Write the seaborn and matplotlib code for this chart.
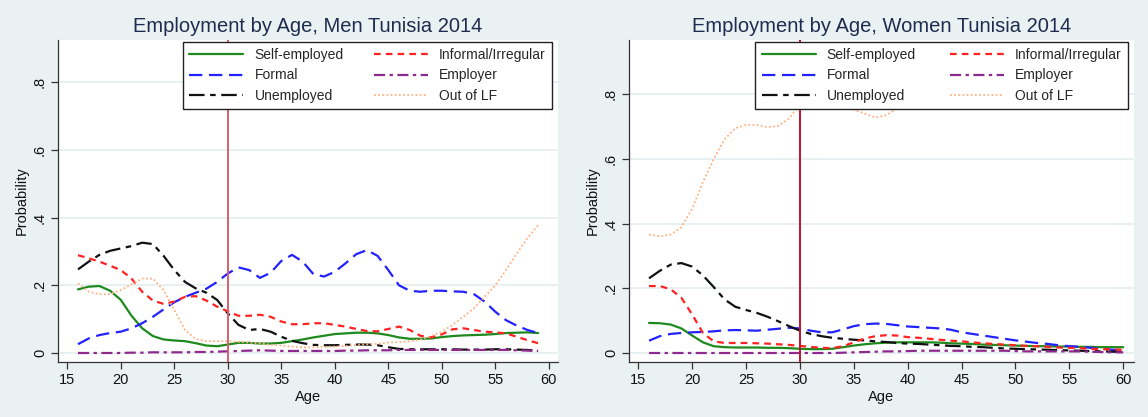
"""
Employment by age, men and women, Tunisia 2014 - recreated with seaborn.
"""

import matplotlib
matplotlib.use("Agg")
import matplotlib.pyplot as plt
import numpy as np
import pandas as pd
import seaborn as sns

# idades
ages_men   = list(range(16, 60))
ages_women = list(range(16, 61))

# homens
men_self = [.188, .196, .198, .184, .157, .110, .073, .050, .040, .037, .035, .029, .022, .020,
            .025, .030, .030, .028, .028, .030, .035, .040, .046, .051, .056, .058, .060, .060,
            .058, .053, .046, .042, .042, .043, .047, .050, .052, .053, .054, .056, .059, .060,
            .061, .059]
men_formal = [.026, .043, .053, .059, .063, .073, .088, .107, .129, .150, .166, .178, .190, .210,
              .235, .253, .245, .222, .237, .272, .290, .270, .233, .226, .240, .265, .292, .304,
              .287, .245, .200, .184, .181, .184, .184, .182, .181, .174, .152, .122, .097, .081,
              .068, .059]
men_unemp = [.247, .270, .290, .302, .309, .316, .326, .322, .287, .245, .210, .191, .178, .157,
             .117, .083, .068, .071, .063, .048, .036, .029, .024, .023, .023, .024, .025, .025,
             .023, .017, .012, .011, .011, .011, .011, .011, .010, .010, .010, .011, .011, .010,
             .009, .007]
men_informal = [.289, .280, .270, .258, .245, .220, .181, .155, .145, .152, .166, .168, .155, .137,
                .123, .110, .110, .113, .107, .093, .085, .085, .088, .088, .083, .078, .071, .065,
                .064, .071, .078, .068, .051, .046, .055, .070, .073, .068, .063, .061, .058, .048,
                .038, .029]
men_employer = [.000, .000, .000, .000, .000, .001, .001, .002, .002, .002, .002, .003, .003, .004,
                .005, .006, .007, .008, .007, .006, .006, .006, .006, .006, .006, .007, .007, .008,
                .008, .008, .009, .009, .009, .009, .009, .009, .009, .009, .009, .009, .009, .008,
                .007, .006]
men_outlf = [.206, .181, .174, .174, .186, .203, .220, .220, .186, .127, .068, .041, .035, .035,
             .035, .033, .031, .029, .024, .022, .019, .017, .017, .018, .019, .021, .024, .026,
             .027, .031, .032, .035, .040, .050, .063, .083, .107, .132, .166, .200, .245, .294,
             .339, .378]

# mulheres
women_self = [.093, .092, .088, .076, .054, .033, .021, .018, .017, .017, .017, .016, .016, .015,
              .013, .012, .012, .013, .018, .023, .027, .030, .032, .033, .033, .033, .033, .032,
              .030, .029, .028, .026, .025, .024, .023, .022, .021, .021, .020, .020, .019, .019,
              .018, .018, .018]
women_formal = [.038, .052, .059, .062, .064, .065, .067, .070, .071, .070, .069, .072, .075, .078,
                .076, .069, .064, .064, .073, .083, .089, .091, .090, .086, .082, .080, .078, .076,
                .072, .064, .059, .054, .049, .044, .039, .035, .031, .028, .024, .021, .019, .016,
                .013, .010, .008]
women_unemp = [.231, .254, .273, .278, .267, .240, .204, .166, .143, .133, .124, .112, .098, .083,
               .069, .059, .052, .047, .044, .041, .039, .036, .034, .031, .029, .028, .026, .024,
               .022, .021, .019, .018, .016, .014, .013, .012, .011, .010, .009, .008, .007, .006,
               .005, .004, .004]
women_informal = [.207, .207, .197, .171, .119, .062, .036, .031, .031, .031, .030, .029, .027, .025,
                  .022, .019, .016, .015, .021, .033, .045, .052, .055, .054, .049, .047, .044, .041,
                  .038, .036, .033, .030, .028, .026, .024, .022, .021, .019, .017, .016, .015, .013,
                  .012, .011, .010]
women_employer = [.000, .000, .000, .000, .000, .000, .000, .000, .000, .000, .000, .000, .000, .000,
                  .000, .000, .000, .000, .001, .002, .003, .004, .005, .005, .006, .007, .007, .007,
                  .007, .007, .007, .007, .007, .007, .006, .005, .005, .005, .005, .005, .005, .004,
                  .003, .002, .002]
women_outlf = [.366, .361, .366, .389, .446, .528, .600, .660, .695, .705, .705, .698, .702, .725,
               .770, .790, .800, .790, .770, .752, .740, .728, .735, .755, .780, .800, .815, .825,
               .835, .845, .850, .855, .860, .865, .870, .875, .880, .885, .890, .895, .900, .905,
               .910, .915, .920]

labels   = ["Self-employed", "Formal", "Unemployed", "Informal/Irregular", "Employer", "Out of LF"]
xticks   = [15, 20, 25, 30, 35, 40, 45, 50, 55, 60]
yticks   = [0, .2, .4, .6, .8]
ytick_lb = ["0", ".2", ".4", ".6", ".8"]

# estilo de cada serie (imitar o Stata)
ESTILOS = {
    "Self-employed":      dict(color="#1e8a1e", lw=1.6, ls="-"),
    "Formal":             dict(color="#2222ff", lw=1.6, ls=(0, (6, 3))),
    "Unemployed":         dict(color="#111111", lw=1.6, ls=(0, (7, 2.5, 2.5, 2.5))),
    "Informal/Irregular": dict(color="#ff2222", lw=1.6, ls=(0, (3, 2.3))),
    "Employer":           dict(color="#8e2a8e", lw=1.6, ls=(0, (5, 2, 1.5, 2))),
    "Out of LF":          dict(color="#ffb27f", lw=1.3, ls=(0, (1, 1.3))),
}

BG    = "#eaf1f3"
GRID  = "#e5edf0"
NAVY  = "#1e2d4f"

sns.set_theme(style="white")
plt.rcParams["font.family"] = ["Liberation Sans", "DejaVu Sans"]


def painel(ax, ages, series, titulo, ylim, xlim, cor_linha):
    ax.set_facecolor("white")
    for y in yticks:
        ax.axhline(y, color=GRID, lw=1.2, zorder=0)

    for nome, valores in zip(labels, series):
        df = pd.DataFrame({"Age": ages, "Probability": valores})
        st = ESTILOS[nome]
        sns.lineplot(data=df, x="Age", y="Probability", ax=ax, label=nome,
                     color=st["color"], linewidth=st["lw"], linestyle=st["ls"],
                     errorbar=None, zorder=3)

    ax.axvline(30, color=cor_linha, lw=1.4, zorder=4)

    ax.set_xlim(*xlim)
    ax.set_ylim(*ylim)
    ax.set_xticks(xticks)
    ax.set_yticks(yticks)
    ax.set_yticklabels(ytick_lb, rotation=90, va="center")
    ax.tick_params(axis="both", direction="out", length=5, width=0.9, color="#333333",
                   labelsize=10.5, labelcolor="#111111", left=True, bottom=True, pad=3)
    ax.set_xlabel("Age", fontsize=10.5, color="#111111", labelpad=2)
    ax.set_ylabel("Probability", fontsize=10.5, color="#111111", labelpad=3)
    ax.set_title(titulo, fontsize=14.5, color=NAVY, pad=6)

    for lado in ["top", "right"]:
        ax.spines[lado].set_visible(False)
    for lado in ["left", "bottom"]:
        ax.spines[lado].set_color("#333333")
        ax.spines[lado].set_linewidth(0.9)

    leg = ax.legend(ncol=2, loc="upper left", bbox_to_anchor=(0.25, 0.994, 0.738, 0.0),
                    mode="expand", fontsize=10, frameon=True, fancybox=False, framealpha=1,
                    edgecolor="#222222", handlelength=3.9, handletextpad=0.8,
                    columnspacing=1.5, labelspacing=0.45, borderpad=0.45, borderaxespad=0)
    leg.get_frame().set_linewidth(1.0)
    leg.set_zorder(10)


fig = plt.figure(figsize=(11.48, 4.17), dpi=100)
fig.patch.set_facecolor(BG)

ax1 = fig.add_axes([58 / 1148, 55 / 417, 500 / 1148, 322 / 417])
ax2 = fig.add_axes([629 / 1148, 55 / 417, 505 / 1148, 322 / 417])

painel(ax1, ages_men,
       [men_self, men_formal, men_unemp, men_informal, men_employer, men_outlf],
       "Employment by Age, Men Tunisia 2014", (-0.0266, 0.925), (14.13, 60.86), "#d9606e")
painel(ax2, ages_women,
       [women_self, women_formal, women_unemp, women_informal, women_employer, women_outlf],
       "Employment by Age, Women Tunisia 2014", (-0.0278, 0.9675), (14.14, 61.0), "#c41230")

fig.savefig("out.png", dpi=100, facecolor=fig.get_facecolor())
plt.close(fig)
print("guardado: out.png")
